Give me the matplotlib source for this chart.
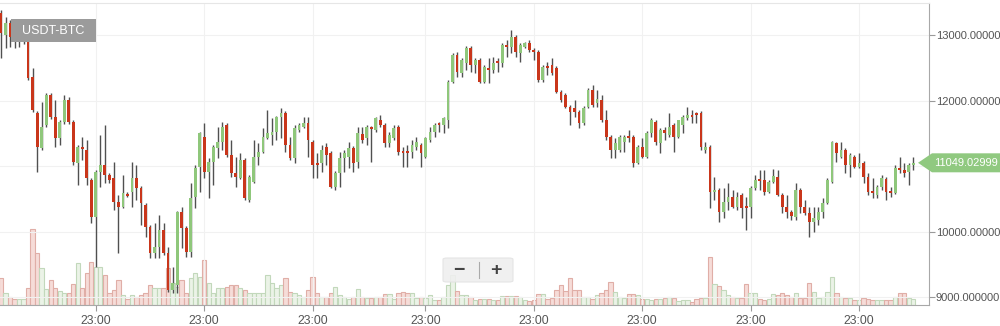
import matplotlib
matplotlib.use("Agg")
import numpy as np
import matplotlib.pyplot as plt
from matplotlib.patches import Rectangle, Polygon, FancyBboxPatch
from matplotlib.lines import Line2D

plt.rcParams['font.family'] = ['Liberation Sans', 'DejaVu Sans']

# hourly candles, USDT-BTC
opens = [13336, 13001, 13184, 12970, 12894, 12924, 13031, 12359, 11810, 11275,
         11626, 12084, 11748, 11428, 11672, 12008, 11672, 11046, 11290, 11245,
         10786, 10222, 10909, 11016, 10863, 10817, 10451, 10374, 10573, 10603,
         10817, 10664, 10405, 10069, 9672, 9763, 10023, 9672, 9107, 9183,
         10298, 10054, 9687, 10527, 10985, 11443, 10909, 11061, 11275, 11367,
         11626, 11168, 10893, 10817, 11092, 10481, 10756, 11138, 11214, 11428,
         11474, 11519, 11748, 11810, 11321, 11122, 11550, 11596, 11657, 11367,
         11046, 11046, 11290, 11199, 10680, 10893, 11122, 11138, 11275, 11061,
         11489, 11428, 11596, 11550, 11703, 11626, 11351, 11428, 11596, 11214,
         11214, 11214, 11290, 11321, 11138, 11397, 11519, 11657, 11626, 11703,
         12283, 12695, 12420, 12573, 12802, 12543, 12619, 12283, 12497, 12466,
         12588, 12573, 12848, 12817, 12970, 12726, 12817, 12878, 12772, 12741,
         12313, 12512, 12543, 12497, 12130, 12084, 11901, 11886, 11825, 11657,
         11901, 12161, 11962, 12008, 11703, 11443, 11245, 11245, 11367, 11443,
         11443, 11046, 11290, 11138, 11504, 11672, 11351, 11550, 11474, 11626,
         11443, 11626, 11733, 11779, 11810, 11810, 11245, 11290, 10603, 10634,
         10298, 10451, 10527, 10374, 10557, 10374, 10374, 10664, 10802, 10786,
         10603, 10756, 10832, 10557, 10374, 10298, 10222, 10634, 10374, 10283,
         10145, 10176, 10298, 10435, 10756, 11351, 11138, 11245, 11016, 11138,
         10985, 11046, 10832, 10603, 10557, 10680, 10802, 10603, 10588, 10970,
         10939, 10909, 11016]
highs = [13382, 13275, 13230, 13001, 13016, 13077, 13062, 12497, 11840, 11977,
         12115, 12115, 12008, 11703, 12084, 12054, 11703, 11321, 11443, 11397,
         10817, 10939, 11474, 11626, 10893, 11061, 10557, 10863, 10603, 11061,
         11016, 10695, 10435, 10099, 10130, 10252, 10130, 9763, 9458, 10313,
         10374, 10084, 10741, 11016, 11519, 11657, 11122, 11321, 11596, 11672,
         11657, 11397, 11138, 11199, 11122, 10863, 11397, 11351, 11580, 11855,
         11733, 11760, 11886, 11840, 11443, 11626, 11657, 11748, 11748, 11397,
         11199, 11321, 11351, 11230, 10924, 11214, 11245, 11367, 11306, 11596,
         11596, 11626, 11611, 11748, 11779, 11657, 11519, 11626, 11626, 11290,
         11321, 11397, 11443, 11351, 11443, 11596, 11657, 11672, 11748, 12313,
         12726, 12741, 12649, 12833, 12833, 12649, 12649, 12543, 12649, 12665,
         12649, 12878, 12924, 13077, 13001, 12878, 12894, 12924, 12802, 12772,
         12543, 12588, 12649, 12527, 12161, 12115, 11932, 12008, 11855, 11916,
         12191, 12237, 12161, 12084, 11855, 11474, 11428, 11474, 11474, 11550,
         11474, 11321, 11428, 11535, 11733, 11703, 11580, 11596, 11810, 11657,
         11710, 11779, 11901, 11855, 11825, 11840, 11367, 11321, 10832, 10664,
         10664, 10741, 10634, 10603, 10588, 10527, 10695, 10863, 10939, 10939,
         10786, 10954, 10939, 10588, 10557, 10328, 10741, 10664, 10481, 10374,
         10374, 10374, 10512, 10817, 11380, 11367, 11367, 11275, 11199, 11168,
         11199, 11077, 10893, 10817, 10710, 10863, 10832, 10680, 11016, 11138,
         11046, 11046, 11138]
lows = [12649, 12802, 12817, 12802, 12817, 12863, 12313, 11825, 10909, 11245,
        11596, 11718, 11290, 11321, 11642, 11642, 11016, 10710, 11092, 10710,
        10130, 9458, 10680, 10741, 10741, 10328, 9672, 10360, 10527, 10374,
        10481, 10099, 9916, 9595, 9595, 9595, 9641, 9076, 9061, 9061,
        9748, 9611, 9611, 10359, 10603, 10817, 10512, 10710, 11122, 11245,
        11138, 10832, 10680, 10800, 10481, 10451, 10740, 11016, 11200, 11410,
        11321, 11397, 11428, 11214, 11092, 11046, 11519, 11580, 11138, 10817,
        10817, 10909, 11016, 10664, 10634, 10680, 10909, 10970, 10909, 10970,
        11351, 11321, 11061, 11519, 11596, 11290, 11290, 11397, 11168, 10985,
        10985, 11122, 11245, 10985, 11122, 11367, 11443, 11519, 11504, 11580,
        12268, 12359, 12359, 12466, 12436, 12420, 12268, 12270, 12268, 12420,
        12436, 12512, 12665, 12726, 12665, 12588, 12802, 12741, 12619, 12283,
        12283, 12390, 12390, 12115, 11977, 11886, 11626, 11748, 11580, 11626,
        11890, 11901, 11901, 11672, 11397, 11122, 11122, 11214, 11214, 11367,
        10985, 11030, 11122, 11122, 11443, 11321, 11199, 11397, 11443, 11214,
        11428, 11504, 11703, 11657, 11657, 11245, 11199, 10359, 10481, 10145,
        10206, 10328, 10359, 10328, 10206, 10023, 10206, 10634, 10634, 10557,
        10588, 10741, 10542, 10283, 10206, 10176, 10176, 10283, 10252, 9916,
        9993, 10099, 10206, 10420, 10741, 11061, 11122, 10893, 10832, 10970,
        10970, 10741, 10557, 10512, 10512, 10634, 10481, 10527, 10575, 10893,
        10832, 10710, 10939]
closes = [13031, 13184, 12970, 12909, 12955, 13031, 12344, 11855, 11290, 11596,
          12084, 11748, 11428, 11672, 12008, 11672, 11061, 11290, 11260, 10817,
          10222, 10909, 11016, 10863, 10786, 10451, 10374, 10588, 10542, 10817,
          10664, 10435, 10069, 9672, 9763, 10023, 9672, 9107, 9214, 10298,
          10054, 9687, 10512, 10970, 11504, 10909, 11061, 11290, 11367, 11596,
          11168, 10893, 10832, 11092, 10512, 10832, 11138, 11214, 11443, 11504,
          11519, 11748, 11810, 11321, 11122, 11580, 11626, 11657, 11397, 11016,
          11016, 11245, 11168, 10680, 10893, 11122, 11199, 11275, 11046, 11504,
          11397, 11596, 11565, 11733, 11626, 11351, 11474, 11580, 11214, 11199,
          11199, 11321, 11367, 11199, 11428, 11519, 11626, 11626, 11733, 12283,
          12695, 12436, 12619, 12802, 12543, 12619, 12283, 12512, 12466, 12573,
          12573, 12848, 12817, 12970, 12741, 12848, 12878, 12772, 12741, 12313,
          12512, 12497, 12420, 12130, 12008, 11901, 11825, 11825, 11657, 11886,
          12161, 11932, 12024, 11703, 11443, 11245, 11351, 11443, 11443, 11428,
          11046, 11290, 11138, 11504, 11703, 11367, 11550, 11504, 11596, 11443,
          11703, 11748, 11779, 11748, 11779, 11290, 11290, 10603, 10634, 10298,
          10451, 10527, 10374, 10527, 10359, 10359, 10664, 10786, 10771, 10603,
          10756, 10847, 10557, 10374, 10298, 10237, 10634, 10374, 10283, 10145,
          10206, 10298, 10435, 10786, 11367, 11199, 11245, 11016, 11168, 10985,
          11046, 10832, 10603, 10588, 10680, 10817, 10603, 10588, 10970, 10939,
          10893, 11016, 11049.03]
volumes = [27, 12, 8, 6, 6, 6, 17, 76, 52, 37,
           16, 25, 17, 14, 12, 12, 21, 42, 17, 32,
           43, 38, 38, 30, 12, 15, 25, 10, 6, 10,
           8, 10, 12, 20, 17, 17, 17, 37, 22, 18,
           25, 12, 27, 32, 28, 45, 22, 12, 17, 17,
           18, 20, 20, 17, 15, 12, 12, 12, 12, 30,
           22, 17, 20, 27, 13, 12, 10, 8, 15, 28,
           12, 8, 8, 12, 18, 10, 8, 6, 8, 16,
           8, 7, 7, 8, 8, 11, 11, 6, 12, 13,
           12, 12, 7, 8, 7, 10, 5, 5, 8, 20,
           30, 14, 10, 10, 8, 5, 6, 6, 6, 5,
           5, 9, 9, 9, 9, 8, 5, 4, 5, 11,
           11, 6, 7, 15, 20, 14, 27, 15, 15, 8,
           8, 6, 10, 12, 15, 23, 13, 8, 7, 11,
           11, 10, 6, 6, 5, 6, 6, 7, 8, 7,
           4, 5, 5, 3, 6, 7, 7, 48, 21, 19,
           15, 10, 8, 7, 7, 21, 12, 12, 6, 5,
           6, 11, 10, 12, 10, 8, 12, 7, 7, 22,
           13, 7, 8, 13, 28, 12, 8, 7, 7, 5,
           5, 7, 6, 5, 5, 5, 5, 5, 8, 12,
           12, 7, 6]

tick_pos = [21, 45, 69, 94, 118, 142, 166, 190]
tick_labels = ["23:00"] * len(tick_pos)
# the 11000 label sits under the last-price tag, so it is not shown
price_ticks = [9000, 10000, 11000, 12000, 13000]
price_labels = ["9000.000000", "10000.00000", "", "12000.00000", "13000.00000"]
pair = "USDT-BTC"
last_label = "11049.02999"

o = np.array(opens, float)
h = np.array(highs, float)
l = np.array(lows, float)
c = np.array(closes, float)
v = np.array(volumes, float)
x = np.arange(len(o))
up = c >= o

RED = '#c9361b'
GREEN = '#8fc77b'

fig = plt.figure(figsize=(10, 3.26), dpi=100)
ax = fig.add_axes([0, 21 / 326, 0.929, 302 / 326])
axv = ax.twinx()
axv.set_zorder(0)
ax.set_zorder(1)
ax.patch.set_visible(False)

# volume bars
vcol = np.where(up, '#ebf3e7', '#f6dcd8')
vedge = np.where(up, '#c2d8bb', '#e0aea7')
axv.bar(x, v, width=0.95, color=vcol, edgecolor=vedge, linewidth=0.8)
axv.set_ylim(0, 302)
axv.set_yticks([])
for s in axv.spines.values():
    s.set_visible(False)

# candles
ax.vlines(x, l, h, color='#505050', linewidth=1.0, zorder=2)
body = np.maximum(np.abs(c - o), 25)
ax.bar(x, body, bottom=np.minimum(o, c), width=0.62,
       color=np.where(up, GREEN, RED), linewidth=0, zorder=3)

ax.set_xlim(-0.22, 205.5)
ax.set_ylim(8878, 13489)
ax.set_xticks(tick_pos)
ax.set_xticklabels(tick_labels)
ax.set_yticks(price_ticks)
ax.set_yticklabels(price_labels)
ax.yaxis.tick_right()
ax.tick_params(axis='both', colors='#9a9a9a', labelcolor='#555555', length=4, width=0.8)
ax.tick_params(axis='x', pad=3, labelsize=8.8)
ax.tick_params(axis='y', pad=1, labelsize=8.0)
ax.grid(True, color='#f1f1f1', linewidth=0.8)
ax.set_axisbelow(True)
ax.spines['left'].set_visible(False)
ax.spines['top'].set_color('#e6e6e6')
ax.spines['right'].set_color('#a8a8a8')
ax.spines['bottom'].set_color('#a8a8a8')

# pair label
fig.patches.append(Rectangle((0.011, 1 - 42 / 326), 0.085, 23 / 326, transform=fig.transFigure,
                             facecolor='#9b9b9b', edgecolor='none', zorder=5))
fig.text(0.0535, 1 - 30.5 / 326, pair, color='white', fontsize=9, ha='center', va='center', zorder=6)

# last price tag
fig.canvas.draw()
py = fig.transFigure.inverted().transform(ax.transData.transform((0, c[-1])))[1]
hh = 9.5 / 326
fig.patches.append(Polygon([(0.918, py), (0.932, py + hh), (1.0, py + hh), (1.0, py - hh), (0.932, py - hh)],
                           closed=True, transform=fig.transFigure, facecolor='#90c980',
                           edgecolor='none', zorder=5))
fig.text(0.934, py, last_label, color='white', fontsize=8.0, ha='left', va='center', zorder=6)

# zoom control
fig.patches.append(FancyBboxPatch((0.443, 1 - 282 / 326), 0.070, 24 / 326,
                                  boxstyle='round,pad=0,rounding_size=0.004',
                                  transform=fig.transFigure, facecolor='#efefef', alpha=0.9,
                                  edgecolor='#e3e3e3', linewidth=0.8, zorder=5))
fig.text(0.459, 1 - 270 / 326, '\u2212', color='#444444', fontsize=14, fontweight='bold',
         ha='center', va='center', zorder=6)
fig.text(0.496, 1 - 270 / 326, '+', color='#444444', fontsize=14, fontweight='bold',
         ha='center', va='center', zorder=6)
fig.lines.append(Line2D([0.479, 0.479], [1 - 278 / 326, 1 - 262 / 326], transform=fig.transFigure,
                        color='#aaaaaa', linewidth=0.8, zorder=6))

fig.savefig('out.png', dpi=100)
